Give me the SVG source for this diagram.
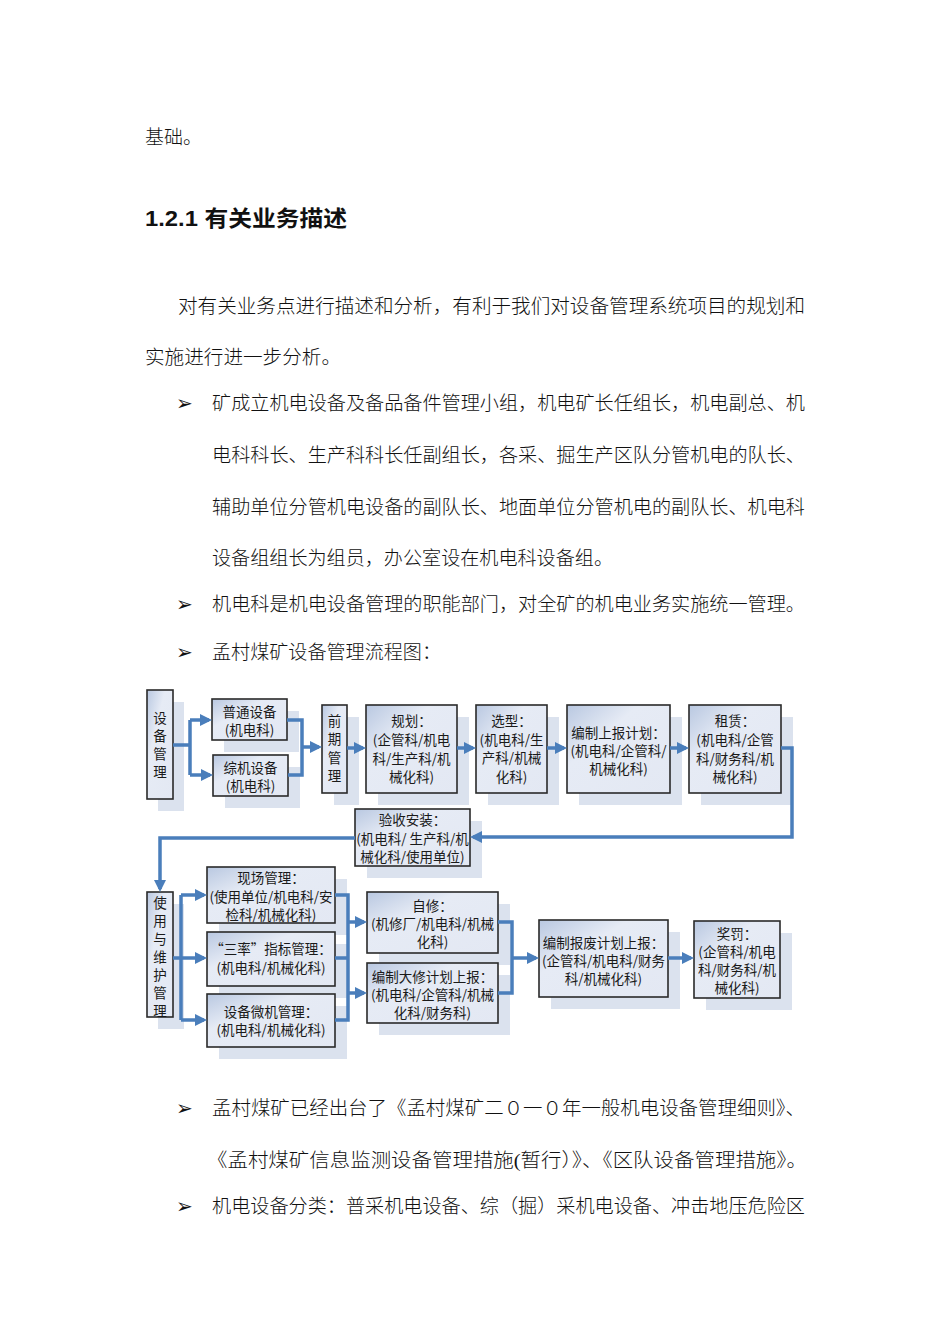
<svg xmlns="http://www.w3.org/2000/svg" width="950" height="1344" viewBox="0 0 950 1344">
<defs>
<linearGradient id="g" x1="0" y1="0" x2="1" y2="1">
<stop offset="0" stop-color="#b9c8e1"/>
<stop offset="0.35" stop-color="#e6ebf5"/>
<stop offset="1" stop-color="#e3e8f3"/>
</linearGradient>
<marker id="ar" viewBox="0 0 10 10" refX="7.5" refY="5" markerWidth="12" markerHeight="12" markerUnits="userSpaceOnUse" orient="auto">
<path d="M0,0 L10,5 L0,10 z" fill="#4a7ebb"/>
</marker>
<style>
.sh{fill:#dbe2ee}
.bx{fill:url(#g);stroke:#2a2a2a;stroke-width:1.6}
.nt{font-family:"Noto Sans CJK SC","Noto Sans",sans-serif;font-size:13.5px;fill:#1a1a1a;text-anchor:middle;dominant-baseline:central}
.vt{font-family:"Noto Sans CJK SC","Noto Sans",sans-serif;font-size:13.5px;fill:#1a1a1a;text-anchor:middle;dominant-baseline:central}
.c{fill:none;stroke:#4a7ebb;stroke-width:3.5}
.ca{fill:none;stroke:#4a7ebb;stroke-width:3.5;marker-end:url(#ar)}
.bt{font-family:"Liberation Serif","Noto Sans CJK SC",serif;font-size:19px;font-weight:300;fill:#111;dominant-baseline:central}
.bu{font-family:"DejaVu Sans",sans-serif;font-size:20px;fill:#111;dominant-baseline:central}
.hd{font-family:"Liberation Sans","Noto Sans CJK SC",sans-serif;font-size:22px;font-weight:bold;fill:#111;dominant-baseline:central}
</style>
</defs>
<rect width="950" height="1344" fill="#fff"/>

<g id="body-text">
<text class="bt" x="145" y="137" textLength="57" lengthAdjust="spacingAndGlyphs">基础。</text>
<text class="hd" x="145" y="218" textLength="202" lengthAdjust="spacingAndGlyphs">1.2.1 有关业务描述</text>
<text class="bt" x="178" y="306" textLength="627" lengthAdjust="spacingAndGlyphs">对有关业务点进行描述和分析，有利于我们对设备管理系统项目的规划和</text>
<text class="bt" x="145" y="357" textLength="196" lengthAdjust="spacingAndGlyphs">实施进行进一步分析。</text>
<text class="bu" x="176" y="403">➢</text>
<text class="bt" x="212" y="403" textLength="593" lengthAdjust="spacingAndGlyphs">矿成立机电设备及备品备件管理小组，机电矿长任组长，机电副总、机</text>
<text class="bt" x="212" y="455" textLength="593" lengthAdjust="spacingAndGlyphs">电科科长、生产科科长任副组长，各采、掘生产区队分管机电的队长、</text>
<text class="bt" x="212" y="507" textLength="593" lengthAdjust="spacingAndGlyphs">辅助单位分管机电设备的副队长、地面单位分管机电的副队长、机电科</text>
<text class="bt" x="212" y="558" textLength="401" lengthAdjust="spacingAndGlyphs">设备组组长为组员，办公室设在机电科设备组。</text>
<text class="bu" x="176" y="604">➢</text>
<text class="bt" x="212" y="604" textLength="593" lengthAdjust="spacingAndGlyphs">机电科是机电设备管理的职能部门，对全矿的机电业务实施统一管理。</text>
<text class="bu" x="176" y="652">➢</text>
<text class="bt" x="212" y="652" textLength="229" lengthAdjust="spacingAndGlyphs">孟村煤矿设备管理流程图：</text>
<text class="bu" x="176" y="1108">➢</text>
<text class="bt" x="212" y="1108" textLength="593" lengthAdjust="spacingAndGlyphs">孟村煤矿已经出台了《孟村煤矿二０一０年一般机电设备管理细则》、</text>
<text class="bt" x="207" y="1160" textLength="600" lengthAdjust="spacingAndGlyphs">《孟村煤矿信息监测设备管理措施(暂行）》、《区队设备管理措施》。</text>
<text class="bu" x="176" y="1206">➢</text>
<text class="bt" x="212" y="1206" textLength="593" lengthAdjust="spacingAndGlyphs">机电设备分类：普采机电设备、综（掘）采机电设备、冲击地压危险区</text>
</g>

<g id="n-sbgl">
<rect class="sh" x="158" y="702" width="26" height="109"/>
<rect class="bx" x="147" y="690" width="26" height="109"/>
<text class="vt" x="160" y="717">设</text><text class="vt" x="160" y="735">备</text><text class="vt" x="160" y="753">管</text><text class="vt" x="160" y="771">理</text>
</g>
<g id="n-ptsb">
<rect class="sh" x="224" y="711" width="75" height="41"/>
<rect class="bx" x="212" y="699" width="75" height="41"/>
<text class="nt" x="249.5" y="711">普通设备</text><text class="nt" x="249.5" y="729">(机电科)</text>
</g>
<g id="n-zjsb">
<rect class="sh" x="225" y="767" width="75" height="41"/>
<rect class="bx" x="213" y="755" width="75" height="41"/>
<text class="nt" x="250.5" y="767">综机设备</text><text class="nt" x="250.5" y="785">(机电科)</text>
</g>
<g id="n-qqgl">
<rect class="sh" x="334" y="717" width="25" height="88"/>
<rect class="bx" x="322" y="705" width="25" height="88"/>
<text class="vt" x="334.5" y="720">前</text><text class="vt" x="334.5" y="738">期</text><text class="vt" x="334.5" y="757">管</text><text class="vt" x="334.5" y="775">理</text>
</g>
<g id="n-gh">
<rect class="sh" x="378" y="717" width="91" height="88"/>
<rect class="bx" x="366" y="705" width="91" height="88"/>
<text class="nt" x="411.5" y="720">规划：</text><text class="nt" x="411.5" y="739">(企管科/机电</text><text class="nt" x="411.5" y="758">科/生产科/机</text><text class="nt" x="411.5" y="776">械化科)</text>
</g>
<g id="n-xx">
<rect class="sh" x="488" y="717" width="71" height="88"/>
<rect class="bx" x="476" y="705" width="71" height="88"/>
<text class="nt" x="511.5" y="720">选型：</text><text class="nt" x="511.5" y="739">(机电科/生</text><text class="nt" x="511.5" y="757">产科/机械</text><text class="nt" x="511.5" y="776">化科)</text>
</g>
<g id="n-bzsbjh">
<rect class="sh" x="579" y="717" width="103" height="88"/>
<rect class="bx" x="567" y="705" width="103" height="88"/>
<text class="nt" x="618.5" y="732">编制上报计划：</text><text class="nt" x="618.5" y="750">(机电科/企管科/</text><text class="nt" x="618.5" y="768">机械化科)</text>
</g>
<g id="n-zl">
<rect class="sh" x="701" y="717" width="92" height="88"/>
<rect class="bx" x="689" y="705" width="92" height="88"/>
<text class="nt" x="735" y="720">租赁：</text><text class="nt" x="735" y="739">(机电科/企管</text><text class="nt" x="735" y="758">科/财务科/机</text><text class="nt" x="735" y="776">械化科)</text>
</g>
<g id="n-ysaz">
<rect class="sh" x="367" y="821" width="115" height="57"/>
<rect class="bx" x="355" y="809" width="115" height="57"/>
<text class="nt" x="412.5" y="819">验收安装：</text><text class="nt" x="412.5" y="838">(机电科/ 生产科/机</text><text class="nt" x="412.5" y="856">械化科/使用单位)</text>
</g>
<g id="n-syywh">
<rect class="sh" x="158" y="904" width="26" height="125"/>
<rect class="bx" x="147" y="892" width="26" height="125"/>
<text class="vt" x="160" y="902">使</text><text class="vt" x="160" y="920">用</text><text class="vt" x="160" y="938">与</text><text class="vt" x="160" y="956">维</text><text class="vt" x="160" y="974">护</text><text class="vt" x="160" y="992">管</text><text class="vt" x="160" y="1010">理</text>
</g>
<g id="n-xcgl">
<rect class="sh" x="219" y="879" width="128" height="56"/>
<rect class="bx" x="207" y="867" width="128" height="56"/>
<text class="nt" x="271" y="877">现场管理：</text><text class="nt" x="271" y="896">(使用单位/机电科/安</text><text class="nt" x="271" y="914">检科/机械化科)</text>
</g>
<g id="n-sl">
<rect class="sh" x="219" y="944" width="128" height="54"/>
<rect class="bx" x="207" y="932" width="128" height="54"/>
<text class="nt" x="271" y="948">“三率”指标管理：</text><text class="nt" x="271" y="967">(机电科/机械化科)</text>
</g>
<g id="n-sbwjgl">
<rect class="sh" x="219" y="1006" width="128" height="53"/>
<rect class="bx" x="207" y="994" width="128" height="53"/>
<text class="nt" x="271" y="1011">设备微机管理：</text><text class="nt" x="271" y="1029">(机电科/机械化科)</text>
</g>
<g id="n-zx">
<rect class="sh" x="379" y="904" width="131" height="61"/>
<rect class="bx" x="367" y="892" width="131" height="61"/>
<text class="nt" x="432.5" y="905">自修：</text><text class="nt" x="432.5" y="923">(机修厂/机电科/机械</text><text class="nt" x="432.5" y="941">化科)</text>
</g>
<g id="n-bzdxjh">
<rect class="sh" x="379" y="975" width="131" height="60"/>
<rect class="bx" x="367" y="963" width="131" height="60"/>
<text class="nt" x="432.5" y="976">编制大修计划上报：</text><text class="nt" x="432.5" y="994">(机电科/企管科/机械</text><text class="nt" x="432.5" y="1012">化科/财务科)</text>
</g>
<g id="n-bzbfjh">
<rect class="sh" x="551" y="932" width="129" height="77"/>
<rect class="bx" x="539" y="920" width="129" height="77"/>
<text class="nt" x="603.5" y="942">编制报废计划上报：</text><text class="nt" x="603.5" y="960">(企管科/机电科/财务</text><text class="nt" x="603.5" y="978">科/机械化科)</text>
</g>
<g id="n-jf">
<rect class="sh" x="706" y="933" width="86" height="77"/>
<rect class="bx" x="694" y="921" width="86" height="77"/>
<text class="nt" x="737" y="933">奖罚：</text><text class="nt" x="737" y="951">(企管科/机电</text><text class="nt" x="737" y="969">科/财务科/机</text><text class="nt" x="737" y="987">械化科)</text>
</g>

<g id="connectors">
<path class="c" d="M173,745 H190 M190,720 V775"/>
<path class="ca" d="M190,720 H209"/>
<path class="ca" d="M190,775 H210"/>
<path class="c" d="M287,720 H302 V775 H288"/>
<path class="ca" d="M302,747 H319"/>
<path class="ca" d="M347,748 H363"/>
<path class="ca" d="M457,748 H473"/>
<path class="ca" d="M547,748 H564"/>
<path class="ca" d="M670,748 H686"/>
<path class="ca" d="M781,748 H792 V837 H473"/>
<path class="ca" d="M355,838 H160 V889"/>
<path class="c" d="M173,958 H181 M181,895 V1020"/>
<path class="ca" d="M181,895 H204"/>
<path class="ca" d="M181,958 H204"/>
<path class="ca" d="M181,1020 H204"/>
<path class="c" d="M335,895 H348 V1020 H335 M335,958 H348"/>
<path class="ca" d="M348,922 H364"/>
<path class="ca" d="M348,993 H364"/>
<path class="c" d="M498,922 H512 V993 H498"/>
<path class="ca" d="M512,958 H536"/>
<path class="ca" d="M668,958 H691"/>
</g>
</svg>
